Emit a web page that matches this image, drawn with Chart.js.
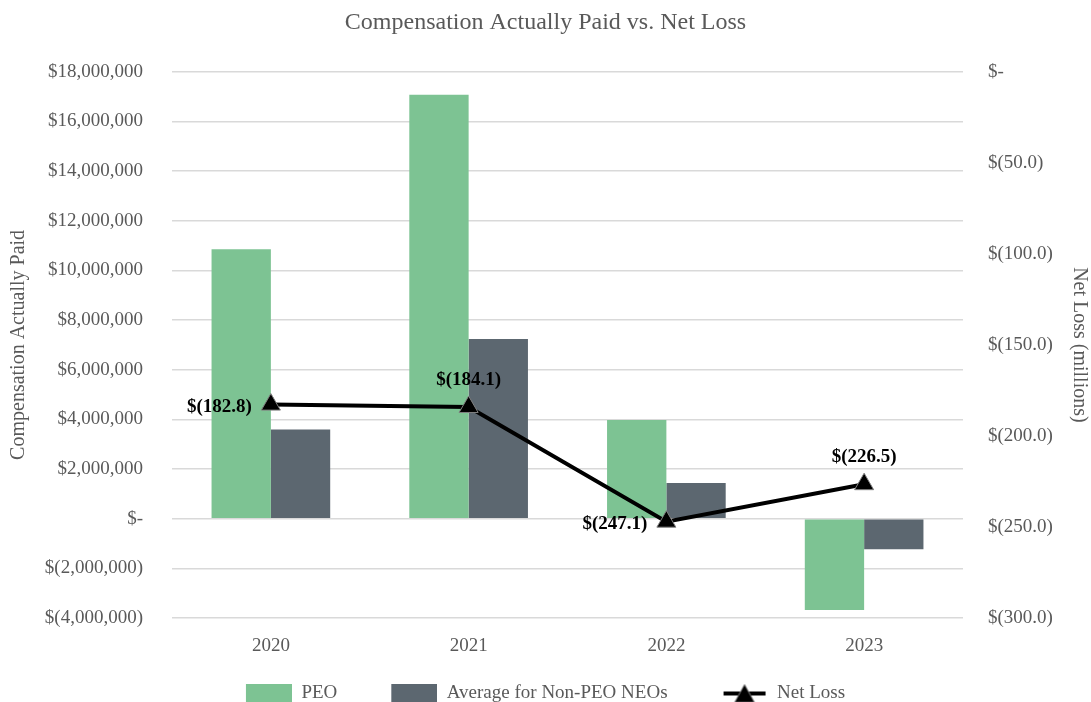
<!DOCTYPE html>
<html>
<head>
<meta charset="utf-8">
<script src="https://cdn.jsdelivr.net/npm/chart.js@4.4.1/dist/chart.umd.min.js"></script>
<style>
  html, body { margin: 0; padding: 0; background: #fff; overflow: hidden; }
  #wrap { width: 1091px; height: 713px; position: relative; }
</style>
</head>
<body>
<div id="wrap"><canvas id="cap"></canvas></div>
<script>
const years = ["2020", "2021", "2022", "2023"];
const peo = [10850000, 17080000, 3980000, -3680000];
const nonPeo = [3590000, 7240000, 1440000, -1230000];
const netLoss = [-182.8, -184.1, -247.1, -226.5];

const green = "#7dc393";
const slate = "#5c6770";
const grey = "#595959";
const serif = "'Liberation Serif', 'Times New Roman', serif";

function money(v) {
  if (v === 0) return "$-";
  const s = Math.abs(v).toLocaleString("en-US");
  return v < 0 ? "$(" + s + ")" : "$" + s;
}

// legend icons, with a blank strip on the left to space the items out
const GAP = 34;
function boxIcon(color) {
  const c = document.createElement("canvas");
  c.width = GAP + 46; c.height = 20;
  const g = c.getContext("2d");
  g.fillStyle = color;
  g.fillRect(GAP, 0, 46, 20);
  return c;
}
function lineIcon() {
  const c = document.createElement("canvas");
  c.width = GAP + 46; c.height = 22;
  const g = c.getContext("2d");
  g.translate(GAP, 0);
  g.strokeStyle = "#000";
  g.lineWidth = 4;
  g.beginPath(); g.moveTo(2, 11); g.lineTo(44, 11); g.stroke();
  g.fillStyle = "#000";
  g.strokeStyle = "#808080";
  g.lineWidth = 1;
  g.beginPath(); g.moveTo(23, 2); g.lineTo(33, 20); g.lineTo(13, 20); g.closePath();
  g.fill(); g.stroke();
  return c;
}
const icons = [boxIcon(green), boxIcon(slate), lineIcon()];

const pointLabels = {
  id: "pointLabels",
  beforeDraw(chart) {
    // nudge the legend row a bit to the left
    const lg = chart.legend;
    lg.right = lg.left + lg.width - GAP;
  },
  afterDatasetsDraw(chart, args, opts) {
    const meta = chart.getDatasetMeta(2);
    const ctx = chart.ctx;
    ctx.save();
    ctx.font = "bold 19px " + serif;
    ctx.fillStyle = "#000";
    ctx.textBaseline = "middle";
    meta.data.forEach((el, i) => {
      const txt = "$(" + Math.abs(netLoss[i]).toFixed(1) + ")";
      if (opts.place[i] === "left") {
        ctx.textAlign = "right";
        ctx.fillText(txt, el.x - 19, el.y + 2);
      } else {
        ctx.textAlign = "center";
        ctx.fillText(txt, el.x, el.y - 27);
      }
    });
    ctx.restore();
  }
};

new Chart(document.getElementById("cap"), {
  data: {
    labels: years,
    datasets: [
      {
        type: "bar",
        label: "PEO",
        data: peo,
        backgroundColor: green,
        yAxisID: "y",
        categoryPercentage: 0.6,
        barPercentage: 1.0,
        order: 2,
      },
      {
        type: "bar",
        label: "Average for Non-PEO NEOs",
        data: nonPeo,
        backgroundColor: slate,
        yAxisID: "y",
        categoryPercentage: 0.6,
        barPercentage: 1.0,
        order: 2,
      },
      {
        type: "line",
        label: "Net Loss",
        data: netLoss,
        yAxisID: "y2",
        borderColor: "#000",
        borderWidth: 4,
        pointStyle: "triangle",
        pointRadius: 11,
        pointBackgroundColor: "#000",
        pointBorderColor: "#808080",
        pointBorderWidth: 1,
        order: 1,
      },
    ],
  },
  options: {
    responsive: true,
    maintainAspectRatio: false,
    animation: false,
    layout: { padding: 0 },
    plugins: {
      tooltip: { enabled: false },
      title: {
        display: true,
        text: "Compensation Actually Paid vs. Net Loss",
        color: grey,
        font: { family: serif, size: 24, weight: "normal" },
        padding: { top: 8, bottom: 35 },
      },
      legend: {
        position: "bottom",
        labels: {
          color: grey,
          font: { family: serif, size: 19 },
          usePointStyle: true,
          pointStyleWidth: GAP + 46,
          padding: 20,
          generateLabels(chart) {
            return chart.data.datasets.map((ds, i) => ({
              text: ds.label,
              pointStyle: icons[i],
              fontColor: grey,
              datasetIndex: i,
              hidden: false,
              lineWidth: 0,
            }));
          },
        },
      },
      pointLabels: { place: ["left", "top", "left", "top"] },
    },
    scales: {
      x: {
        grid: { display: false },
        border: { display: false },
        ticks: { color: grey, font: { family: serif, size: 19 }, padding: 9 },
        afterFit(s) { s.height = 46; },
      },
      y: {
        position: "left",
        min: -4000000,
        max: 18000000,
        ticks: {
          stepSize: 2000000,
          color: grey,
          font: { family: serif, size: 19 },
          padding: 29,
          callback: (v) => money(v),
        },
        grid: { color: "#d9d9d9", lineWidth: 1.5, drawTicks: false },
        border: { display: false },
        title: {
          display: true,
          text: "Compensation Actually Paid",
          color: grey,
          font: { family: serif, size: 20 },
          padding: { top: 7, bottom: 0 },
        },
        afterFit(s) { s.width = 172; },
      },
      y2: {
        position: "right",
        min: -300,
        max: 0,
        ticks: {
          stepSize: 50,
          color: grey,
          font: { family: serif, size: 19 },
          padding: 25,
          callback: (v) => (v === 0 ? "$-" : "$(" + Math.abs(v).toFixed(1) + ")"),
        },
        grid: { display: false, drawTicks: false },
        border: { display: false },
        title: {
          display: true,
          text: "Net Loss (millions)",
          color: grey,
          font: { family: serif, size: 20 },
          padding: { top: 0, bottom: 0 },
        },
        afterFit(s) { s.width = 128; },
      },
    },
  },
  plugins: [pointLabels],
});
</script>
</body>
</html>
